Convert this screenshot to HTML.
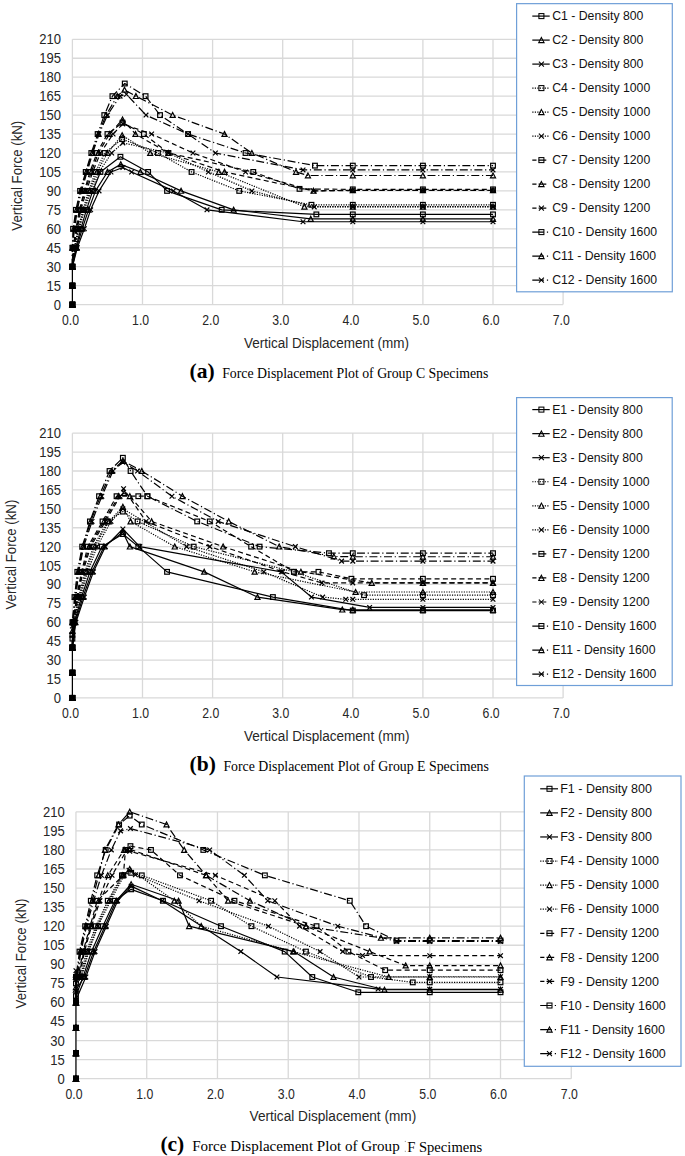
<!DOCTYPE html><html><head><meta charset="utf-8"><style>
html,body{margin:0;padding:0;background:#fff;width:685px;height:1156px;overflow:hidden}
svg{display:block}
.t{font-family:"Liberation Sans",sans-serif;font-size:14.6px;fill:#262626}
.ty{font-family:"Liberation Sans",sans-serif;font-size:15.0px;fill:#262626}
.ti{font-family:"Liberation Sans",sans-serif;font-size:14px;fill:#262626}
.ti2{font-family:"Liberation Sans",sans-serif;font-size:14px;fill:#262626}
.lg{font-family:"Liberation Sans",sans-serif;font-size:12.25px;fill:#111}
.cl{font-family:"Liberation Serif",serif;font-size:21.5px;font-weight:bold;fill:#000}
.ct{font-family:"Liberation Serif",serif;font-size:13.8px;fill:#000}
</style></head><body><svg width="685" height="1156" viewBox="0 0 685 1156">
<rect width="685" height="1156" fill="#fff"/>
<path d="M72.40,304.60H563.10M72.40,285.65H563.10M72.40,266.70H563.10M72.40,247.75H563.10M72.40,228.80H563.10M72.40,209.85H563.10M72.40,190.90H563.10M72.40,171.95H563.10M72.40,153.00H563.10M72.40,134.05H563.10M72.40,115.10H563.10M72.40,96.15H563.10M72.40,77.20H563.10M72.40,58.25H563.10M72.40,39.30H563.10M72.40,39.30V304.60M142.50,39.30V304.60M212.60,39.30V304.60M282.70,39.30V304.60M352.80,39.30V304.60M422.90,39.30V304.60M493.00,39.30V304.60M563.10,39.30V304.60" stroke="#d9d9d9" stroke-width="1.3" fill="none"/>
<text transform="translate(61.00,309.55) scale(0.87,1)" text-anchor="end" class="ty">0</text>
<text transform="translate(61.00,290.60) scale(0.87,1)" text-anchor="end" class="ty">15</text>
<text transform="translate(61.00,271.65) scale(0.87,1)" text-anchor="end" class="ty">30</text>
<text transform="translate(61.00,252.70) scale(0.87,1)" text-anchor="end" class="ty">45</text>
<text transform="translate(61.00,233.75) scale(0.87,1)" text-anchor="end" class="ty">60</text>
<text transform="translate(61.00,214.80) scale(0.87,1)" text-anchor="end" class="ty">75</text>
<text transform="translate(61.00,195.85) scale(0.87,1)" text-anchor="end" class="ty">90</text>
<text transform="translate(61.00,176.90) scale(0.87,1)" text-anchor="end" class="ty">105</text>
<text transform="translate(61.00,157.95) scale(0.87,1)" text-anchor="end" class="ty">120</text>
<text transform="translate(61.00,139.00) scale(0.87,1)" text-anchor="end" class="ty">135</text>
<text transform="translate(61.00,120.05) scale(0.87,1)" text-anchor="end" class="ty">150</text>
<text transform="translate(61.00,101.10) scale(0.87,1)" text-anchor="end" class="ty">165</text>
<text transform="translate(61.00,82.15) scale(0.87,1)" text-anchor="end" class="ty">180</text>
<text transform="translate(61.00,63.20) scale(0.87,1)" text-anchor="end" class="ty">195</text>
<text transform="translate(61.00,44.25) scale(0.87,1)" text-anchor="end" class="ty">210</text>
<text transform="translate(70.50,325.00) scale(0.84,1)" text-anchor="middle" class="t">0.0</text>
<text transform="translate(140.60,325.00) scale(0.84,1)" text-anchor="middle" class="t">1.0</text>
<text transform="translate(210.70,325.00) scale(0.84,1)" text-anchor="middle" class="t">2.0</text>
<text transform="translate(280.80,325.00) scale(0.84,1)" text-anchor="middle" class="t">3.0</text>
<text transform="translate(350.90,325.00) scale(0.84,1)" text-anchor="middle" class="t">4.0</text>
<text transform="translate(421.00,325.00) scale(0.84,1)" text-anchor="middle" class="t">5.0</text>
<text transform="translate(491.10,325.00) scale(0.84,1)" text-anchor="middle" class="t">6.0</text>
<text transform="translate(561.20,325.00) scale(0.84,1)" text-anchor="middle" class="t">7.0</text>
<text x="244.0" y="347.8" class="ti" textLength="165.0" lengthAdjust="spacingAndGlyphs">Vertical Displacement (mm)</text>
<text transform="translate(21.9,175.7) rotate(-90)" text-anchor="middle" class="ti2" textLength="110" lengthAdjust="spacingAndGlyphs">Vertical Force (kN)</text>
<path d="M72.40,304.60V266.70" stroke="#000" stroke-width="1.2"/>
<path d="M72.40,266.70L75.91,247.75L80.81,228.80L86.42,209.85L92.73,190.90L100.44,171.95L120.42,156.79L148.11,171.95L167.04,190.90L221.71,209.85L316.35,214.40L352.80,214.40L422.90,214.40L493.00,214.40" fill="none" stroke="#000" stroke-width="1.2" stroke-linejoin="round"/>
<path d="M72.40,266.70L76.61,247.75L82.21,228.80L88.52,209.85L95.53,190.90L107.45,171.95L120.77,164.37L140.40,171.95L181.06,190.90L233.63,209.85L310.74,218.95L352.80,218.95L422.90,218.95L493.00,218.95" fill="none" stroke="#000" stroke-width="1.2" stroke-linejoin="round"/>
<path d="M72.40,266.70L77.31,247.75L84.32,228.80L90.63,209.85L99.04,190.90L110.96,171.95L122.87,167.53L131.63,171.95L173.34,190.90L206.99,209.85L303.03,221.73L352.80,221.73L422.90,221.73L493.00,221.73" fill="none" stroke="#000" stroke-width="1.2" stroke-linejoin="round"/>
<path d="M72.40,266.70L74.50,247.75L78.01,228.80L82.92,209.85L88.52,190.90L95.53,171.95L104.65,153.00L122.17,139.10L157.92,153.00L191.57,171.95L239.24,190.90L311.44,204.80L352.80,204.80L422.90,204.80L493.00,204.80" fill="none" stroke="#000" stroke-width="1.2" stroke-dasharray="1.2,1.3" stroke-linejoin="round"/>
<path d="M72.40,266.70L74.50,247.75L78.71,228.80L83.62,209.85L89.93,190.90L96.94,171.95L107.45,153.00L122.17,135.31L150.21,153.00L218.91,171.95L304.43,206.69L352.80,206.69L422.90,206.69L493.00,206.69" fill="none" stroke="#000" stroke-width="1.2" stroke-dasharray="1.2,1.3" stroke-linejoin="round"/>
<path d="M72.40,266.70L75.20,247.75L79.41,228.80L84.32,209.85L91.33,190.90L99.04,171.95L111.66,153.00L122.87,142.89L168.44,153.00L208.39,171.95L251.86,190.90L314.25,206.94L352.80,206.94L422.90,206.94L493.00,206.94" fill="none" stroke="#000" stroke-width="1.2" stroke-dasharray="1.2,1.3" stroke-linejoin="round"/>
<path d="M72.40,266.70L73.10,247.75L75.91,228.80L79.41,209.85L84.32,190.90L89.93,171.95L96.94,153.00L107.45,134.05L122.52,122.68L143.90,134.05L168.44,153.00L253.26,171.95L299.52,188.88L352.80,189.38L422.90,189.38L493.00,189.38" fill="none" stroke="#000" stroke-width="1.2" stroke-dasharray="5,3.3" stroke-linejoin="round"/>
<path d="M72.40,266.70L73.80,247.75L76.61,228.80L80.11,209.85L85.02,190.90L91.33,171.95L98.34,153.00L109.55,134.05L122.52,119.52L135.49,134.05L168.44,153.00L224.52,171.95L313.54,190.90L352.80,190.27L422.90,190.27L493.00,190.27" fill="none" stroke="#000" stroke-width="1.2" stroke-dasharray="5,3.3" stroke-linejoin="round"/>
<path d="M72.40,266.70L73.80,247.75L77.31,228.80L80.81,209.85L86.42,190.90L92.73,171.95L100.44,153.00L113.06,134.05L122.87,123.94L151.61,134.05L192.97,153.00L245.55,171.95L313.54,190.90L352.80,190.52L422.90,190.52L493.00,190.52" fill="none" stroke="#000" stroke-width="1.2" stroke-dasharray="5,3.3" stroke-linejoin="round"/>
<path d="M72.40,266.70L72.40,247.75L73.10,228.80L75.91,209.85L80.11,190.90L85.72,171.95L91.33,153.00L97.64,134.05L104.30,115.10L112.43,96.15L124.76,83.52L145.58,96.15L160.03,115.10L188.06,134.05L245.55,153.00L314.95,165.63L352.80,165.63L422.90,165.63L493.00,165.63" fill="none" stroke="#000" stroke-width="1.2" stroke-dasharray="8,2.7,1.2,2.7" stroke-linejoin="round"/>
<path d="M72.40,266.70L72.40,247.75L73.80,228.80L76.61,209.85L80.81,190.90L86.42,171.95L92.03,153.00L98.34,134.05L106.05,115.10L117.26,96.15L124.48,89.83L135.91,96.15L172.64,115.10L224.52,134.05L251.86,153.00L296.02,171.95L307.94,175.49L352.80,175.49L422.90,175.49L493.00,175.49" fill="none" stroke="#000" stroke-width="1.2" stroke-dasharray="8,2.7,1.2,2.7" stroke-linejoin="round"/>
<path d="M72.40,266.70L72.40,247.75L74.50,228.80L77.31,209.85L81.51,190.90L87.12,171.95L92.73,153.00L99.04,134.05L107.45,115.10L120.07,96.15L126.38,94.26L146.00,115.10L188.06,134.05L215.40,153.00L303.03,169.93L352.80,169.93L422.90,169.93L493.00,169.93" fill="none" stroke="#000" stroke-width="1.2" stroke-dasharray="8,2.7,1.2,2.7" stroke-linejoin="round"/>
<g fill="none" stroke="#000" stroke-width="1.2"><rect x="70.05" y="302.25" width="4.70" height="4.70"/><rect x="70.05" y="283.30" width="4.70" height="4.70"/><rect x="70.05" y="264.35" width="4.70" height="4.70"/><rect x="73.56" y="245.40" width="4.70" height="4.70"/><rect x="78.46" y="226.45" width="4.70" height="4.70"/><rect x="84.07" y="207.50" width="4.70" height="4.70"/><rect x="90.38" y="188.55" width="4.70" height="4.70"/><rect x="98.09" y="169.60" width="4.70" height="4.70"/><rect x="118.07" y="154.44" width="4.70" height="4.70"/><rect x="145.76" y="169.60" width="4.70" height="4.70"/><rect x="164.69" y="188.55" width="4.70" height="4.70"/><rect x="219.36" y="207.50" width="4.70" height="4.70"/><rect x="314.00" y="212.05" width="4.70" height="4.70"/><rect x="350.45" y="212.05" width="4.70" height="4.70"/><rect x="420.55" y="212.05" width="4.70" height="4.70"/><rect x="490.65" y="212.05" width="4.70" height="4.70"/></g>
<g fill="none" stroke="#000" stroke-width="1.2"><path d="M72.40,302.05L74.95,306.95L69.85,306.95Z"/><path d="M72.40,283.10L74.95,288.00L69.85,288.00Z"/><path d="M72.40,264.15L74.95,269.05L69.85,269.05Z"/><path d="M76.61,245.20L79.16,250.10L74.06,250.10Z"/><path d="M82.21,226.25L84.76,231.15L79.66,231.15Z"/><path d="M88.52,207.30L91.07,212.20L85.97,212.20Z"/><path d="M95.53,188.35L98.08,193.25L92.98,193.25Z"/><path d="M107.45,169.40L110.00,174.30L104.90,174.30Z"/><path d="M120.77,161.82L123.32,166.72L118.22,166.72Z"/><path d="M140.40,169.40L142.95,174.30L137.85,174.30Z"/><path d="M181.06,188.35L183.60,193.25L178.51,193.25Z"/><path d="M233.63,207.30L236.18,212.20L231.08,212.20Z"/><path d="M310.74,216.40L313.29,221.30L308.19,221.30Z"/><path d="M352.80,216.40L355.35,221.30L350.25,221.30Z"/><path d="M422.90,216.40L425.45,221.30L420.35,221.30Z"/><path d="M493.00,216.40L495.55,221.30L490.45,221.30Z"/></g>
<g fill="none" stroke="#000" stroke-width="1.2"><path d="M70.05,302.25L74.75,306.95M74.75,302.25L70.05,306.95"/><path d="M70.05,283.30L74.75,288.00M74.75,283.30L70.05,288.00"/><path d="M70.05,264.35L74.75,269.05M74.75,264.35L70.05,269.05"/><path d="M74.96,245.40L79.66,250.10M79.66,245.40L74.96,250.10"/><path d="M81.97,226.45L86.67,231.15M86.67,226.45L81.97,231.15"/><path d="M88.28,207.50L92.98,212.20M92.98,207.50L88.28,212.20"/><path d="M96.69,188.55L101.39,193.25M101.39,188.55L96.69,193.25"/><path d="M108.61,169.60L113.31,174.30M113.31,169.60L108.61,174.30"/><path d="M120.52,165.18L125.22,169.88M125.22,165.18L120.52,169.88"/><path d="M129.28,169.60L133.98,174.30M133.98,169.60L129.28,174.30"/><path d="M170.99,188.55L175.69,193.25M175.69,188.55L170.99,193.25"/><path d="M204.64,207.50L209.34,212.20M209.34,207.50L204.64,212.20"/><path d="M300.68,219.38L305.38,224.08M305.38,219.38L300.68,224.08"/><path d="M350.45,219.38L355.15,224.08M355.15,219.38L350.45,224.08"/><path d="M420.55,219.38L425.25,224.08M425.25,219.38L420.55,224.08"/><path d="M490.65,219.38L495.35,224.08M495.35,219.38L490.65,224.08"/></g>
<g fill="none" stroke="#000" stroke-width="1.2"><rect x="70.05" y="302.25" width="4.70" height="4.70"/><rect x="70.05" y="283.30" width="4.70" height="4.70"/><rect x="70.05" y="264.35" width="4.70" height="4.70"/><rect x="72.15" y="245.40" width="4.70" height="4.70"/><rect x="75.66" y="226.45" width="4.70" height="4.70"/><rect x="80.57" y="207.50" width="4.70" height="4.70"/><rect x="86.17" y="188.55" width="4.70" height="4.70"/><rect x="93.18" y="169.60" width="4.70" height="4.70"/><rect x="102.30" y="150.65" width="4.70" height="4.70"/><rect x="119.82" y="136.75" width="4.70" height="4.70"/><rect x="155.57" y="150.65" width="4.70" height="4.70"/><rect x="189.22" y="169.60" width="4.70" height="4.70"/><rect x="236.89" y="188.55" width="4.70" height="4.70"/><rect x="309.09" y="202.45" width="4.70" height="4.70"/><rect x="350.45" y="202.45" width="4.70" height="4.70"/><rect x="420.55" y="202.45" width="4.70" height="4.70"/><rect x="490.65" y="202.45" width="4.70" height="4.70"/></g>
<g fill="none" stroke="#000" stroke-width="1.2"><path d="M72.40,302.05L74.95,306.95L69.85,306.95Z"/><path d="M72.40,283.10L74.95,288.00L69.85,288.00Z"/><path d="M72.40,264.15L74.95,269.05L69.85,269.05Z"/><path d="M74.50,245.20L77.05,250.10L71.95,250.10Z"/><path d="M78.71,226.25L81.26,231.15L76.16,231.15Z"/><path d="M83.62,207.30L86.17,212.20L81.07,212.20Z"/><path d="M89.93,188.35L92.48,193.25L87.38,193.25Z"/><path d="M96.94,169.40L99.48,174.30L94.39,174.30Z"/><path d="M107.45,150.45L110.00,155.35L104.90,155.35Z"/><path d="M122.17,132.76L124.72,137.66L119.62,137.66Z"/><path d="M150.21,150.45L152.76,155.35L147.66,155.35Z"/><path d="M218.91,169.40L221.46,174.30L216.36,174.30Z"/><path d="M304.43,204.14L306.98,209.04L301.88,209.04Z"/><path d="M352.80,204.14L355.35,209.04L350.25,209.04Z"/><path d="M422.90,204.14L425.45,209.04L420.35,209.04Z"/><path d="M493.00,204.14L495.55,209.04L490.45,209.04Z"/></g>
<g fill="none" stroke="#000" stroke-width="1.2"><path d="M70.05,302.25L74.75,306.95M74.75,302.25L70.05,306.95"/><path d="M70.05,283.30L74.75,288.00M74.75,283.30L70.05,288.00"/><path d="M70.05,264.35L74.75,269.05M74.75,264.35L70.05,269.05"/><path d="M72.85,245.40L77.55,250.10M77.55,245.40L72.85,250.10"/><path d="M77.06,226.45L81.76,231.15M81.76,226.45L77.06,231.15"/><path d="M81.97,207.50L86.67,212.20M86.67,207.50L81.97,212.20"/><path d="M88.98,188.55L93.68,193.25M93.68,188.55L88.98,193.25"/><path d="M96.69,169.60L101.39,174.30M101.39,169.60L96.69,174.30"/><path d="M109.31,150.65L114.01,155.35M114.01,150.65L109.31,155.35"/><path d="M120.52,140.54L125.22,145.24M125.22,140.54L120.52,145.24"/><path d="M166.09,150.65L170.79,155.35M170.79,150.65L166.09,155.35"/><path d="M206.04,169.60L210.74,174.30M210.74,169.60L206.04,174.30"/><path d="M249.51,188.55L254.21,193.25M254.21,188.55L249.51,193.25"/><path d="M311.89,204.59L316.60,209.29M316.60,204.59L311.89,209.29"/><path d="M350.45,204.59L355.15,209.29M355.15,204.59L350.45,209.29"/><path d="M420.55,204.59L425.25,209.29M425.25,204.59L420.55,209.29"/><path d="M490.65,204.59L495.35,209.29M495.35,204.59L490.65,209.29"/></g>
<g fill="none" stroke="#000" stroke-width="1.2"><rect x="70.05" y="302.25" width="4.70" height="4.70"/><rect x="70.05" y="283.30" width="4.70" height="4.70"/><rect x="70.05" y="264.35" width="4.70" height="4.70"/><rect x="70.75" y="245.40" width="4.70" height="4.70"/><rect x="73.56" y="226.45" width="4.70" height="4.70"/><rect x="77.06" y="207.50" width="4.70" height="4.70"/><rect x="81.97" y="188.55" width="4.70" height="4.70"/><rect x="87.58" y="169.60" width="4.70" height="4.70"/><rect x="94.59" y="150.65" width="4.70" height="4.70"/><rect x="105.10" y="131.70" width="4.70" height="4.70"/><rect x="120.17" y="120.33" width="4.70" height="4.70"/><rect x="141.55" y="131.70" width="4.70" height="4.70"/><rect x="166.09" y="150.65" width="4.70" height="4.70"/><rect x="250.91" y="169.60" width="4.70" height="4.70"/><rect x="297.17" y="186.53" width="4.70" height="4.70"/><rect x="350.45" y="187.03" width="4.70" height="4.70"/><rect x="420.55" y="187.03" width="4.70" height="4.70"/><rect x="490.65" y="187.03" width="4.70" height="4.70"/></g>
<g fill="none" stroke="#000" stroke-width="1.2"><path d="M72.40,302.05L74.95,306.95L69.85,306.95Z"/><path d="M72.40,283.10L74.95,288.00L69.85,288.00Z"/><path d="M72.40,264.15L74.95,269.05L69.85,269.05Z"/><path d="M73.80,245.20L76.35,250.10L71.25,250.10Z"/><path d="M76.61,226.25L79.16,231.15L74.06,231.15Z"/><path d="M80.11,207.30L82.66,212.20L77.56,212.20Z"/><path d="M85.02,188.35L87.57,193.25L82.47,193.25Z"/><path d="M91.33,169.40L93.88,174.30L88.78,174.30Z"/><path d="M98.34,150.45L100.89,155.35L95.79,155.35Z"/><path d="M109.55,131.50L112.10,136.40L107.00,136.40Z"/><path d="M122.52,116.97L125.07,121.87L119.97,121.87Z"/><path d="M135.49,131.50L138.04,136.40L132.94,136.40Z"/><path d="M168.44,150.45L170.99,155.35L165.89,155.35Z"/><path d="M224.52,169.40L227.07,174.30L221.97,174.30Z"/><path d="M313.54,188.35L316.09,193.25L310.99,193.25Z"/><path d="M352.80,187.72L355.35,192.62L350.25,192.62Z"/><path d="M422.90,187.72L425.45,192.62L420.35,192.62Z"/><path d="M493.00,187.72L495.55,192.62L490.45,192.62Z"/></g>
<g fill="none" stroke="#000" stroke-width="1.2"><path d="M70.05,302.25L74.75,306.95M74.75,302.25L70.05,306.95"/><path d="M70.05,283.30L74.75,288.00M74.75,283.30L70.05,288.00"/><path d="M70.05,264.35L74.75,269.05M74.75,264.35L70.05,269.05"/><path d="M71.45,245.40L76.15,250.10M76.15,245.40L71.45,250.10"/><path d="M74.96,226.45L79.66,231.15M79.66,226.45L74.96,231.15"/><path d="M78.46,207.50L83.16,212.20M83.16,207.50L78.46,212.20"/><path d="M84.07,188.55L88.77,193.25M88.77,188.55L84.07,193.25"/><path d="M90.38,169.60L95.08,174.30M95.08,169.60L90.38,174.30"/><path d="M98.09,150.65L102.79,155.35M102.79,150.65L98.09,155.35"/><path d="M110.71,131.70L115.41,136.40M115.41,131.70L110.71,136.40"/><path d="M120.52,121.59L125.22,126.29M125.22,121.59L120.52,126.29"/><path d="M149.26,131.70L153.96,136.40M153.96,131.70L149.26,136.40"/><path d="M190.62,150.65L195.32,155.35M195.32,150.65L190.62,155.35"/><path d="M243.20,169.60L247.90,174.30M247.90,169.60L243.20,174.30"/><path d="M311.19,188.55L315.89,193.25M315.89,188.55L311.19,193.25"/><path d="M350.45,188.17L355.15,192.87M355.15,188.17L350.45,192.87"/><path d="M420.55,188.17L425.25,192.87M425.25,188.17L420.55,192.87"/><path d="M490.65,188.17L495.35,192.87M495.35,188.17L490.65,192.87"/></g>
<g fill="none" stroke="#000" stroke-width="1.2"><rect x="70.05" y="302.25" width="4.70" height="4.70"/><rect x="70.05" y="283.30" width="4.70" height="4.70"/><rect x="70.05" y="264.35" width="4.70" height="4.70"/><rect x="70.05" y="245.40" width="4.70" height="4.70"/><rect x="70.75" y="226.45" width="4.70" height="4.70"/><rect x="73.56" y="207.50" width="4.70" height="4.70"/><rect x="77.76" y="188.55" width="4.70" height="4.70"/><rect x="83.37" y="169.60" width="4.70" height="4.70"/><rect x="88.98" y="150.65" width="4.70" height="4.70"/><rect x="95.29" y="131.70" width="4.70" height="4.70"/><rect x="101.95" y="112.75" width="4.70" height="4.70"/><rect x="110.08" y="93.80" width="4.70" height="4.70"/><rect x="122.41" y="81.17" width="4.70" height="4.70"/><rect x="143.23" y="93.80" width="4.70" height="4.70"/><rect x="157.68" y="112.75" width="4.70" height="4.70"/><rect x="185.72" y="131.70" width="4.70" height="4.70"/><rect x="243.20" y="150.65" width="4.70" height="4.70"/><rect x="312.60" y="163.28" width="4.70" height="4.70"/><rect x="350.45" y="163.28" width="4.70" height="4.70"/><rect x="420.55" y="163.28" width="4.70" height="4.70"/><rect x="490.65" y="163.28" width="4.70" height="4.70"/></g>
<g fill="none" stroke="#000" stroke-width="1.2"><path d="M72.40,302.05L74.95,306.95L69.85,306.95Z"/><path d="M72.40,283.10L74.95,288.00L69.85,288.00Z"/><path d="M72.40,264.15L74.95,269.05L69.85,269.05Z"/><path d="M72.40,245.20L74.95,250.10L69.85,250.10Z"/><path d="M73.80,226.25L76.35,231.15L71.25,231.15Z"/><path d="M76.61,207.30L79.16,212.20L74.06,212.20Z"/><path d="M80.81,188.35L83.36,193.25L78.26,193.25Z"/><path d="M86.42,169.40L88.97,174.30L83.87,174.30Z"/><path d="M92.03,150.45L94.58,155.35L89.48,155.35Z"/><path d="M98.34,131.50L100.89,136.40L95.79,136.40Z"/><path d="M106.05,112.55L108.60,117.45L103.50,117.45Z"/><path d="M117.26,93.60L119.81,98.50L114.71,98.50Z"/><path d="M124.48,87.28L127.03,92.18L121.93,92.18Z"/><path d="M135.91,93.60L138.46,98.50L133.36,98.50Z"/><path d="M172.64,112.55L175.19,117.45L170.09,117.45Z"/><path d="M224.52,131.50L227.07,136.40L221.97,136.40Z"/><path d="M251.86,150.45L254.41,155.35L249.31,155.35Z"/><path d="M296.02,169.40L298.57,174.30L293.47,174.30Z"/><path d="M307.94,172.94L310.49,177.84L305.39,177.84Z"/><path d="M352.80,172.94L355.35,177.84L350.25,177.84Z"/><path d="M422.90,172.94L425.45,177.84L420.35,177.84Z"/><path d="M493.00,172.94L495.55,177.84L490.45,177.84Z"/></g>
<g fill="none" stroke="#000" stroke-width="1.2"><path d="M70.05,302.25L74.75,306.95M74.75,302.25L70.05,306.95"/><path d="M70.05,283.30L74.75,288.00M74.75,283.30L70.05,288.00"/><path d="M70.05,264.35L74.75,269.05M74.75,264.35L70.05,269.05"/><path d="M70.05,245.40L74.75,250.10M74.75,245.40L70.05,250.10"/><path d="M72.15,226.45L76.85,231.15M76.85,226.45L72.15,231.15"/><path d="M74.96,207.50L79.66,212.20M79.66,207.50L74.96,212.20"/><path d="M79.16,188.55L83.86,193.25M83.86,188.55L79.16,193.25"/><path d="M84.77,169.60L89.47,174.30M89.47,169.60L84.77,174.30"/><path d="M90.38,150.65L95.08,155.35M95.08,150.65L90.38,155.35"/><path d="M96.69,131.70L101.39,136.40M101.39,131.70L96.69,136.40"/><path d="M105.10,112.75L109.80,117.45M109.80,112.75L105.10,117.45"/><path d="M117.72,93.80L122.42,98.50M122.42,93.80L117.72,98.50"/><path d="M124.03,91.91L128.73,96.61M128.73,91.91L124.03,96.61"/><path d="M143.66,112.75L148.35,117.45M148.35,112.75L143.66,117.45"/><path d="M185.72,131.70L190.41,136.40M190.41,131.70L185.72,136.40"/><path d="M213.05,150.65L217.75,155.35M217.75,150.65L213.05,155.35"/><path d="M300.68,167.58L305.38,172.28M305.38,167.58L300.68,172.28"/><path d="M350.45,167.58L355.15,172.28M355.15,167.58L350.45,172.28"/><path d="M420.55,167.58L425.25,172.28M425.25,167.58L420.55,172.28"/><path d="M490.65,167.58L495.35,172.28M495.35,167.58L490.65,172.28"/></g>
<rect x="516.60" y="3.65" width="155.70" height="288.15" fill="#fff" stroke="#6f9fd8" stroke-width="1.2"/>
<path d="M532.30,16.10H549.70" stroke="#000" stroke-width="1.2"/>
<g fill="none" stroke="#000" stroke-width="1.05"><rect x="538.90" y="13.60" width="5.00" height="5.00"/></g>
<text x="552.20" y="20.30" class="lg">C1 - Density 800</text>
<path d="M532.30,40.10H549.70" stroke="#000" stroke-width="1.2"/>
<g fill="none" stroke="#000" stroke-width="1.05"><path d="M541.40,37.40L544.10,42.60L538.70,42.60Z"/></g>
<text x="552.20" y="44.30" class="lg">C2 - Density 800</text>
<path d="M532.30,64.10H549.70" stroke="#000" stroke-width="1.2"/>
<g fill="none" stroke="#000" stroke-width="1.05"><path d="M538.90,61.60L543.90,66.60M543.90,61.60L538.90,66.60"/></g>
<text x="552.20" y="68.30" class="lg">C3 - Density 800</text>
<path d="M532.30,88.10H549.70" stroke="#000" stroke-width="1.2" stroke-dasharray="1.2,1.3"/>
<g fill="none" stroke="#000" stroke-width="1.05"><rect x="538.90" y="85.60" width="5.00" height="5.00"/></g>
<text x="552.20" y="92.30" class="lg">C4 - Density 1000</text>
<path d="M532.30,112.10H549.70" stroke="#000" stroke-width="1.2" stroke-dasharray="1.2,1.3"/>
<g fill="none" stroke="#000" stroke-width="1.05"><path d="M541.40,109.40L544.10,114.60L538.70,114.60Z"/></g>
<text x="552.20" y="116.30" class="lg">C5 - Density 1000</text>
<path d="M532.30,136.10H549.70" stroke="#000" stroke-width="1.2" stroke-dasharray="1.2,1.3"/>
<g fill="none" stroke="#000" stroke-width="1.05"><path d="M538.90,133.60L543.90,138.60M543.90,133.60L538.90,138.60"/></g>
<text x="552.20" y="140.30" class="lg">C6 - Density 1000</text>
<path d="M532.30,160.10H536.50M538.60,160.10H546.30" stroke="#000" stroke-width="1.2"/>
<g fill="none" stroke="#000" stroke-width="1.05"><rect x="538.90" y="157.60" width="5.00" height="5.00"/></g>
<text x="552.20" y="164.30" class="lg">C7 - Density 1200</text>
<path d="M532.30,184.10H536.50M538.60,184.10H546.30" stroke="#000" stroke-width="1.2"/>
<g fill="none" stroke="#000" stroke-width="1.05"><path d="M541.40,181.40L544.10,186.60L538.70,186.60Z"/></g>
<text x="552.20" y="188.30" class="lg">C8 - Density 1200</text>
<path d="M532.30,208.10H536.50M538.60,208.10H546.30" stroke="#000" stroke-width="1.2"/>
<g fill="none" stroke="#000" stroke-width="1.05"><path d="M538.90,205.60L543.90,210.60M543.90,205.60L538.90,210.60"/></g>
<text x="552.20" y="212.30" class="lg">C9 - Density 1200</text>
<path d="M532.30,232.10H543.90M546.90,232.10H548.10" stroke="#000" stroke-width="1.2"/>
<g fill="none" stroke="#000" stroke-width="1.05"><rect x="538.90" y="229.60" width="5.00" height="5.00"/></g>
<text x="552.20" y="236.30" class="lg">C10 - Density 1600</text>
<path d="M532.30,256.10H543.90M546.90,256.10H548.10" stroke="#000" stroke-width="1.2"/>
<g fill="none" stroke="#000" stroke-width="1.05"><path d="M541.40,253.40L544.10,258.60L538.70,258.60Z"/></g>
<text x="552.20" y="260.30" class="lg">C11 - Density 1600</text>
<path d="M532.30,280.10H543.90M546.90,280.10H548.10" stroke="#000" stroke-width="1.2"/>
<g fill="none" stroke="#000" stroke-width="1.05"><path d="M538.90,277.60L543.90,282.60M543.90,277.60L538.90,282.60"/></g>
<text x="552.20" y="284.30" class="lg">C12 - Density 1600</text>
<text x="189.60" y="377.80" class="cl">(a)</text>
<text x="222.20" y="377.80" class="ct" textLength="266.2" lengthAdjust="spacingAndGlyphs">Force Displacement Plot of Group C Specimens</text>
<path d="M72.40,697.90H563.10M72.40,678.99H563.10M72.40,660.09H563.10M72.40,641.18H563.10M72.40,622.27H563.10M72.40,603.36H563.10M72.40,584.46H563.10M72.40,565.55H563.10M72.40,546.64H563.10M72.40,527.74H563.10M72.40,508.83H563.10M72.40,489.92H563.10M72.40,471.01H563.10M72.40,452.11H563.10M72.40,433.20H563.10M72.40,433.20V697.90M142.50,433.20V697.90M212.60,433.20V697.90M282.70,433.20V697.90M352.80,433.20V697.90M422.90,433.20V697.90M493.00,433.20V697.90M563.10,433.20V697.90" stroke="#d9d9d9" stroke-width="1.3" fill="none"/>
<text transform="translate(61.00,702.85) scale(0.87,1)" text-anchor="end" class="ty">0</text>
<text transform="translate(61.00,683.94) scale(0.87,1)" text-anchor="end" class="ty">15</text>
<text transform="translate(61.00,665.04) scale(0.87,1)" text-anchor="end" class="ty">30</text>
<text transform="translate(61.00,646.13) scale(0.87,1)" text-anchor="end" class="ty">45</text>
<text transform="translate(61.00,627.22) scale(0.87,1)" text-anchor="end" class="ty">60</text>
<text transform="translate(61.00,608.31) scale(0.87,1)" text-anchor="end" class="ty">75</text>
<text transform="translate(61.00,589.41) scale(0.87,1)" text-anchor="end" class="ty">90</text>
<text transform="translate(61.00,570.50) scale(0.87,1)" text-anchor="end" class="ty">105</text>
<text transform="translate(61.00,551.59) scale(0.87,1)" text-anchor="end" class="ty">120</text>
<text transform="translate(61.00,532.69) scale(0.87,1)" text-anchor="end" class="ty">135</text>
<text transform="translate(61.00,513.78) scale(0.87,1)" text-anchor="end" class="ty">150</text>
<text transform="translate(61.00,494.87) scale(0.87,1)" text-anchor="end" class="ty">165</text>
<text transform="translate(61.00,475.96) scale(0.87,1)" text-anchor="end" class="ty">180</text>
<text transform="translate(61.00,457.06) scale(0.87,1)" text-anchor="end" class="ty">195</text>
<text transform="translate(61.00,438.15) scale(0.87,1)" text-anchor="end" class="ty">210</text>
<text transform="translate(70.50,718.30) scale(0.84,1)" text-anchor="middle" class="t">0.0</text>
<text transform="translate(140.60,718.30) scale(0.84,1)" text-anchor="middle" class="t">1.0</text>
<text transform="translate(210.70,718.30) scale(0.84,1)" text-anchor="middle" class="t">2.0</text>
<text transform="translate(280.80,718.30) scale(0.84,1)" text-anchor="middle" class="t">3.0</text>
<text transform="translate(350.90,718.30) scale(0.84,1)" text-anchor="middle" class="t">4.0</text>
<text transform="translate(421.00,718.30) scale(0.84,1)" text-anchor="middle" class="t">5.0</text>
<text transform="translate(491.10,718.30) scale(0.84,1)" text-anchor="middle" class="t">6.0</text>
<text transform="translate(561.20,718.30) scale(0.84,1)" text-anchor="middle" class="t">7.0</text>
<text x="244.0" y="740.8" class="ti" textLength="165.5" lengthAdjust="spacingAndGlyphs">Vertical Displacement (mm)</text>
<text transform="translate(16.3,554.6) rotate(-90)" text-anchor="middle" class="ti2" textLength="110" lengthAdjust="spacingAndGlyphs">Vertical Force (kN)</text>
<path d="M72.40,697.90V647.48" stroke="#000" stroke-width="1.2"/>
<path d="M72.40,647.48L74.50,622.27L81.51,597.06L89.93,571.85L101.84,546.64L122.87,534.04L138.29,546.64L167.04,571.85L272.89,597.06L352.80,610.55L422.90,610.55L493.00,610.55" fill="none" stroke="#000" stroke-width="1.2" stroke-linejoin="round"/>
<path d="M72.40,647.48L75.20,622.27L82.92,597.06L92.03,571.85L103.95,546.64L122.87,532.15L129.88,546.64L204.19,571.85L257.46,597.06L342.28,609.67L352.80,609.92L422.90,609.92L493.00,609.92" fill="none" stroke="#000" stroke-width="1.2" stroke-linejoin="round"/>
<path d="M72.40,647.48L75.91,622.27L84.32,597.06L93.43,571.85L105.35,546.64L122.87,529.00L139.70,546.64L281.30,571.85L311.44,597.06L369.62,607.40L422.90,607.40L493.00,607.40" fill="none" stroke="#000" stroke-width="1.2" stroke-linejoin="round"/>
<path d="M72.40,647.48L73.80,622.27L78.71,597.06L85.02,571.85L93.43,546.64L107.45,521.43L122.87,511.60L137.59,521.43L193.67,546.64L293.92,571.85L364.02,595.17L422.90,595.17L493.00,595.17" fill="none" stroke="#000" stroke-width="1.2" stroke-dasharray="1.2,1.3" stroke-linejoin="round"/>
<path d="M72.40,647.48L73.80,622.27L79.41,597.06L86.42,571.85L94.83,546.64L108.85,521.43L122.87,506.94L130.58,521.43L174.75,546.64L254.66,571.85L355.60,592.02L422.90,592.02L493.00,592.02" fill="none" stroke="#000" stroke-width="1.2" stroke-dasharray="1.2,1.3" stroke-linejoin="round"/>
<path d="M72.40,647.48L74.50,622.27L80.11,597.06L87.82,571.85L96.94,546.64L110.96,521.43L122.87,508.83L186.66,546.64L263.77,571.85L322.66,597.06L345.79,599.33L352.80,599.33L422.90,599.33L493.00,599.33" fill="none" stroke="#000" stroke-width="1.2" stroke-dasharray="1.2,1.3" stroke-linejoin="round"/>
<path d="M72.40,647.48L72.40,634.88L73.10,622.27L76.61,597.06L81.51,571.85L87.82,546.64L102.54,521.43L116.56,496.22L138.29,496.22L147.41,496.22L209.80,521.43L251.15,546.64L293.92,571.85L318.45,571.85L351.40,578.78L422.90,578.78L493.00,578.78" fill="none" stroke="#000" stroke-width="1.2" stroke-dasharray="5,3.3" stroke-linejoin="round"/>
<path d="M72.40,647.48L73.10,622.27L77.31,597.06L82.21,571.85L89.22,546.64L103.95,521.43L118.67,496.22L124.27,493.07L129.88,496.22L151.61,521.43L223.11,546.64L300.93,571.85L371.73,582.94L422.90,582.94L493.00,582.94" fill="none" stroke="#000" stroke-width="1.2" stroke-dasharray="5,3.3" stroke-linejoin="round"/>
<path d="M72.40,647.48L73.80,622.27L78.01,597.06L82.92,571.85L90.63,546.64L105.35,521.43L120.07,496.22L123.57,488.66L146.00,521.43L209.80,546.64L282.70,571.85L321.96,582.94L352.80,582.94L422.90,582.94L493.00,582.94" fill="none" stroke="#000" stroke-width="1.2" stroke-dasharray="5,3.3" stroke-linejoin="round"/>
<path d="M72.40,647.48L72.40,638.66L72.40,622.27L74.50,597.06L77.31,571.85L82.21,546.64L89.93,521.43L99.04,496.22L109.55,471.01L122.87,457.78L130.58,471.01L147.41,496.22L197.18,521.43L259.57,546.64L328.97,553.20L352.80,553.20L422.90,553.20L493.00,553.20" fill="none" stroke="#000" stroke-width="1.2" stroke-dasharray="8,2.7,1.2,2.7" stroke-linejoin="round"/>
<path d="M72.40,647.48L72.40,631.09L72.40,622.27L75.20,597.06L78.01,571.85L82.92,546.64L90.63,521.43L100.44,496.22L111.66,471.01L122.87,460.93L141.80,471.01L182.46,496.22L228.72,521.43L279.19,546.64L333.87,556.47L352.80,556.73L422.90,556.73L493.00,556.73" fill="none" stroke="#000" stroke-width="1.2" stroke-dasharray="8,2.7,1.2,2.7" stroke-linejoin="round"/>
<path d="M72.40,647.48L72.40,626.05L73.10,622.27L75.91,597.06L78.71,571.85L83.62,546.64L92.03,521.43L101.84,496.22L113.06,471.01L122.87,462.19L137.59,471.01L171.94,496.22L218.21,521.43L295.32,546.64L341.58,561.14L352.80,561.14L422.90,561.14L493.00,561.14" fill="none" stroke="#000" stroke-width="1.2" stroke-dasharray="8,2.7,1.2,2.7" stroke-linejoin="round"/>
<g fill="none" stroke="#000" stroke-width="1.2"><rect x="70.05" y="695.55" width="4.70" height="4.70"/><rect x="70.05" y="670.34" width="4.70" height="4.70"/><rect x="70.05" y="645.13" width="4.70" height="4.70"/><rect x="72.15" y="619.92" width="4.70" height="4.70"/><rect x="79.16" y="594.71" width="4.70" height="4.70"/><rect x="87.58" y="569.50" width="4.70" height="4.70"/><rect x="99.49" y="544.29" width="4.70" height="4.70"/><rect x="120.52" y="531.69" width="4.70" height="4.70"/><rect x="135.94" y="544.29" width="4.70" height="4.70"/><rect x="164.69" y="569.50" width="4.70" height="4.70"/><rect x="270.54" y="594.71" width="4.70" height="4.70"/><rect x="350.45" y="608.20" width="4.70" height="4.70"/><rect x="420.55" y="608.20" width="4.70" height="4.70"/><rect x="490.65" y="608.20" width="4.70" height="4.70"/></g>
<g fill="none" stroke="#000" stroke-width="1.2"><path d="M72.40,695.35L74.95,700.25L69.85,700.25Z"/><path d="M72.40,670.14L74.95,675.04L69.85,675.04Z"/><path d="M72.40,644.93L74.95,649.83L69.85,649.83Z"/><path d="M75.20,619.72L77.75,624.62L72.65,624.62Z"/><path d="M82.92,594.51L85.47,599.41L80.37,599.41Z"/><path d="M92.03,569.30L94.58,574.20L89.48,574.20Z"/><path d="M103.95,544.09L106.50,548.99L101.40,548.99Z"/><path d="M122.87,529.60L125.42,534.50L120.32,534.50Z"/><path d="M129.88,544.09L132.43,548.99L127.33,548.99Z"/><path d="M204.19,569.30L206.74,574.20L201.64,574.20Z"/><path d="M257.46,594.51L260.01,599.41L254.91,599.41Z"/><path d="M342.28,607.12L344.83,612.02L339.73,612.02Z"/><path d="M352.80,607.37L355.35,612.27L350.25,612.27Z"/><path d="M422.90,607.37L425.45,612.27L420.35,612.27Z"/><path d="M493.00,607.37L495.55,612.27L490.45,612.27Z"/></g>
<g fill="none" stroke="#000" stroke-width="1.2"><path d="M70.05,695.55L74.75,700.25M74.75,695.55L70.05,700.25"/><path d="M70.05,670.34L74.75,675.04M74.75,670.34L70.05,675.04"/><path d="M70.05,645.13L74.75,649.83M74.75,645.13L70.05,649.83"/><path d="M73.56,619.92L78.25,624.62M78.25,619.92L73.56,624.62"/><path d="M81.97,594.71L86.67,599.41M86.67,594.71L81.97,599.41"/><path d="M91.08,569.50L95.78,574.20M95.78,569.50L91.08,574.20"/><path d="M103.00,544.29L107.70,548.99M107.70,544.29L103.00,548.99"/><path d="M120.52,526.65L125.22,531.35M125.22,526.65L120.52,531.35"/><path d="M137.35,544.29L142.05,548.99M142.05,544.29L137.35,548.99"/><path d="M278.95,569.50L283.65,574.20M283.65,569.50L278.95,574.20"/><path d="M309.09,594.71L313.79,599.41M313.79,594.71L309.09,599.41"/><path d="M367.27,605.05L371.97,609.75M371.97,605.05L367.27,609.75"/><path d="M420.55,605.05L425.25,609.75M425.25,605.05L420.55,609.75"/><path d="M490.65,605.05L495.35,609.75M495.35,605.05L490.65,609.75"/></g>
<g fill="none" stroke="#000" stroke-width="1.2"><rect x="70.05" y="695.55" width="4.70" height="4.70"/><rect x="70.05" y="670.34" width="4.70" height="4.70"/><rect x="70.05" y="645.13" width="4.70" height="4.70"/><rect x="71.45" y="619.92" width="4.70" height="4.70"/><rect x="76.36" y="594.71" width="4.70" height="4.70"/><rect x="82.67" y="569.50" width="4.70" height="4.70"/><rect x="91.08" y="544.29" width="4.70" height="4.70"/><rect x="105.10" y="519.08" width="4.70" height="4.70"/><rect x="120.52" y="509.25" width="4.70" height="4.70"/><rect x="135.24" y="519.08" width="4.70" height="4.70"/><rect x="191.32" y="544.29" width="4.70" height="4.70"/><rect x="291.57" y="569.50" width="4.70" height="4.70"/><rect x="361.67" y="592.82" width="4.70" height="4.70"/><rect x="420.55" y="592.82" width="4.70" height="4.70"/><rect x="490.65" y="592.82" width="4.70" height="4.70"/></g>
<g fill="none" stroke="#000" stroke-width="1.2"><path d="M72.40,695.35L74.95,700.25L69.85,700.25Z"/><path d="M72.40,670.14L74.95,675.04L69.85,675.04Z"/><path d="M72.40,644.93L74.95,649.83L69.85,649.83Z"/><path d="M73.80,619.72L76.35,624.62L71.25,624.62Z"/><path d="M79.41,594.51L81.96,599.41L76.86,599.41Z"/><path d="M86.42,569.30L88.97,574.20L83.87,574.20Z"/><path d="M94.83,544.09L97.38,548.99L92.28,548.99Z"/><path d="M108.85,518.88L111.40,523.78L106.30,523.78Z"/><path d="M122.87,504.39L125.42,509.29L120.32,509.29Z"/><path d="M130.58,518.88L133.13,523.78L128.03,523.78Z"/><path d="M174.75,544.09L177.30,548.99L172.20,548.99Z"/><path d="M254.66,569.30L257.21,574.20L252.11,574.20Z"/><path d="M355.60,589.47L358.15,594.37L353.05,594.37Z"/><path d="M422.90,589.47L425.45,594.37L420.35,594.37Z"/><path d="M493.00,589.47L495.55,594.37L490.45,594.37Z"/></g>
<g fill="none" stroke="#000" stroke-width="1.2"><path d="M70.05,695.55L74.75,700.25M74.75,695.55L70.05,700.25"/><path d="M70.05,670.34L74.75,675.04M74.75,670.34L70.05,675.04"/><path d="M70.05,645.13L74.75,649.83M74.75,645.13L70.05,649.83"/><path d="M72.15,619.92L76.85,624.62M76.85,619.92L72.15,624.62"/><path d="M77.76,594.71L82.46,599.41M82.46,594.71L77.76,599.41"/><path d="M85.47,569.50L90.17,574.20M90.17,569.50L85.47,574.20"/><path d="M94.59,544.29L99.28,548.99M99.28,544.29L94.59,548.99"/><path d="M108.61,519.08L113.31,523.78M113.31,519.08L108.61,523.78"/><path d="M120.52,506.48L125.22,511.18M125.22,506.48L120.52,511.18"/><path d="M184.31,544.29L189.01,548.99M189.01,544.29L184.31,548.99"/><path d="M261.42,569.50L266.12,574.20M266.12,569.50L261.42,574.20"/><path d="M320.31,594.71L325.01,599.41M325.01,594.71L320.31,599.41"/><path d="M343.44,596.98L348.14,601.68M348.14,596.98L343.44,601.68"/><path d="M350.45,596.98L355.15,601.68M355.15,596.98L350.45,601.68"/><path d="M420.55,596.98L425.25,601.68M425.25,596.98L420.55,601.68"/><path d="M490.65,596.98L495.35,601.68M495.35,596.98L490.65,601.68"/></g>
<g fill="none" stroke="#000" stroke-width="1.2"><rect x="70.05" y="695.55" width="4.70" height="4.70"/><rect x="70.05" y="670.34" width="4.70" height="4.70"/><rect x="70.05" y="645.13" width="4.70" height="4.70"/><rect x="70.05" y="632.53" width="4.70" height="4.70"/><rect x="70.75" y="619.92" width="4.70" height="4.70"/><rect x="74.26" y="594.71" width="4.70" height="4.70"/><rect x="79.16" y="569.50" width="4.70" height="4.70"/><rect x="85.47" y="544.29" width="4.70" height="4.70"/><rect x="100.19" y="519.08" width="4.70" height="4.70"/><rect x="114.21" y="493.87" width="4.70" height="4.70"/><rect x="135.94" y="493.87" width="4.70" height="4.70"/><rect x="145.06" y="493.87" width="4.70" height="4.70"/><rect x="207.45" y="519.08" width="4.70" height="4.70"/><rect x="248.80" y="544.29" width="4.70" height="4.70"/><rect x="291.57" y="569.50" width="4.70" height="4.70"/><rect x="316.10" y="569.50" width="4.70" height="4.70"/><rect x="349.05" y="576.43" width="4.70" height="4.70"/><rect x="420.55" y="576.43" width="4.70" height="4.70"/><rect x="490.65" y="576.43" width="4.70" height="4.70"/></g>
<g fill="none" stroke="#000" stroke-width="1.2"><path d="M72.40,695.35L74.95,700.25L69.85,700.25Z"/><path d="M72.40,670.14L74.95,675.04L69.85,675.04Z"/><path d="M72.40,644.93L74.95,649.83L69.85,649.83Z"/><path d="M73.10,619.72L75.65,624.62L70.55,624.62Z"/><path d="M77.31,594.51L79.86,599.41L74.76,599.41Z"/><path d="M82.21,569.30L84.76,574.20L79.66,574.20Z"/><path d="M89.22,544.09L91.77,548.99L86.67,548.99Z"/><path d="M103.95,518.88L106.50,523.78L101.40,523.78Z"/><path d="M118.67,493.67L121.22,498.57L116.12,498.57Z"/><path d="M124.27,490.52L126.82,495.42L121.72,495.42Z"/><path d="M129.88,493.67L132.43,498.57L127.33,498.57Z"/><path d="M151.61,518.88L154.16,523.78L149.06,523.78Z"/><path d="M223.11,544.09L225.66,548.99L220.56,548.99Z"/><path d="M300.93,569.30L303.48,574.20L298.38,574.20Z"/><path d="M371.73,580.39L374.28,585.29L369.18,585.29Z"/><path d="M422.90,580.39L425.45,585.29L420.35,585.29Z"/><path d="M493.00,580.39L495.55,585.29L490.45,585.29Z"/></g>
<g fill="none" stroke="#000" stroke-width="1.2"><path d="M70.05,695.55L74.75,700.25M74.75,695.55L70.05,700.25"/><path d="M70.05,670.34L74.75,675.04M74.75,670.34L70.05,675.04"/><path d="M70.05,645.13L74.75,649.83M74.75,645.13L70.05,649.83"/><path d="M71.45,619.92L76.15,624.62M76.15,619.92L71.45,624.62"/><path d="M75.66,594.71L80.36,599.41M80.36,594.71L75.66,599.41"/><path d="M80.57,569.50L85.27,574.20M85.27,569.50L80.57,574.20"/><path d="M88.28,544.29L92.98,548.99M92.98,544.29L88.28,548.99"/><path d="M103.00,519.08L107.70,523.78M107.70,519.08L103.00,523.78"/><path d="M117.72,493.87L122.42,498.57M122.42,493.87L117.72,498.57"/><path d="M121.22,486.31L125.92,491.01M125.92,486.31L121.22,491.01"/><path d="M143.66,519.08L148.35,523.78M148.35,519.08L143.66,523.78"/><path d="M207.45,544.29L212.15,548.99M212.15,544.29L207.45,548.99"/><path d="M280.35,569.50L285.05,574.20M285.05,569.50L280.35,574.20"/><path d="M319.61,580.59L324.31,585.29M324.31,580.59L319.61,585.29"/><path d="M350.45,580.59L355.15,585.29M355.15,580.59L350.45,585.29"/><path d="M420.55,580.59L425.25,585.29M425.25,580.59L420.55,585.29"/><path d="M490.65,580.59L495.35,585.29M495.35,580.59L490.65,585.29"/></g>
<g fill="none" stroke="#000" stroke-width="1.2"><rect x="70.05" y="695.55" width="4.70" height="4.70"/><rect x="70.05" y="670.34" width="4.70" height="4.70"/><rect x="70.05" y="645.13" width="4.70" height="4.70"/><rect x="70.05" y="636.31" width="4.70" height="4.70"/><rect x="70.05" y="619.92" width="4.70" height="4.70"/><rect x="72.15" y="594.71" width="4.70" height="4.70"/><rect x="74.96" y="569.50" width="4.70" height="4.70"/><rect x="79.86" y="544.29" width="4.70" height="4.70"/><rect x="87.58" y="519.08" width="4.70" height="4.70"/><rect x="96.69" y="493.87" width="4.70" height="4.70"/><rect x="107.20" y="468.66" width="4.70" height="4.70"/><rect x="120.52" y="455.43" width="4.70" height="4.70"/><rect x="128.23" y="468.66" width="4.70" height="4.70"/><rect x="145.06" y="493.87" width="4.70" height="4.70"/><rect x="194.83" y="519.08" width="4.70" height="4.70"/><rect x="257.22" y="544.29" width="4.70" height="4.70"/><rect x="326.62" y="550.85" width="4.70" height="4.70"/><rect x="350.45" y="550.85" width="4.70" height="4.70"/><rect x="420.55" y="550.85" width="4.70" height="4.70"/><rect x="490.65" y="550.85" width="4.70" height="4.70"/></g>
<g fill="none" stroke="#000" stroke-width="1.2"><path d="M72.40,695.35L74.95,700.25L69.85,700.25Z"/><path d="M72.40,670.14L74.95,675.04L69.85,675.04Z"/><path d="M72.40,644.93L74.95,649.83L69.85,649.83Z"/><path d="M72.40,628.54L74.95,633.44L69.85,633.44Z"/><path d="M72.40,619.72L74.95,624.62L69.85,624.62Z"/><path d="M75.20,594.51L77.75,599.41L72.65,599.41Z"/><path d="M78.01,569.30L80.56,574.20L75.46,574.20Z"/><path d="M82.92,544.09L85.47,548.99L80.37,548.99Z"/><path d="M90.63,518.88L93.18,523.78L88.08,523.78Z"/><path d="M100.44,493.67L102.99,498.57L97.89,498.57Z"/><path d="M111.66,468.46L114.21,473.36L109.11,473.36Z"/><path d="M122.87,458.38L125.42,463.28L120.32,463.28Z"/><path d="M141.80,468.46L144.35,473.36L139.25,473.36Z"/><path d="M182.46,493.67L185.01,498.57L179.91,498.57Z"/><path d="M228.72,518.88L231.27,523.78L226.17,523.78Z"/><path d="M279.19,544.09L281.75,548.99L276.64,548.99Z"/><path d="M333.87,553.92L336.42,558.82L331.32,558.82Z"/><path d="M352.80,554.18L355.35,559.08L350.25,559.08Z"/><path d="M422.90,554.18L425.45,559.08L420.35,559.08Z"/><path d="M493.00,554.18L495.55,559.08L490.45,559.08Z"/></g>
<g fill="none" stroke="#000" stroke-width="1.2"><path d="M70.05,695.55L74.75,700.25M74.75,695.55L70.05,700.25"/><path d="M70.05,670.34L74.75,675.04M74.75,670.34L70.05,675.04"/><path d="M70.05,645.13L74.75,649.83M74.75,645.13L70.05,649.83"/><path d="M70.05,623.70L74.75,628.40M74.75,623.70L70.05,628.40"/><path d="M70.75,619.92L75.45,624.62M75.45,619.92L70.75,624.62"/><path d="M73.56,594.71L78.25,599.41M78.25,594.71L73.56,599.41"/><path d="M76.36,569.50L81.06,574.20M81.06,569.50L76.36,574.20"/><path d="M81.27,544.29L85.97,548.99M85.97,544.29L81.27,548.99"/><path d="M89.68,519.08L94.38,523.78M94.38,519.08L89.68,523.78"/><path d="M99.49,493.87L104.19,498.57M104.19,493.87L99.49,498.57"/><path d="M110.71,468.66L115.41,473.36M115.41,468.66L110.71,473.36"/><path d="M120.52,459.84L125.22,464.54M125.22,459.84L120.52,464.54"/><path d="M135.24,468.66L139.94,473.36M139.94,468.66L135.24,473.36"/><path d="M169.59,493.87L174.29,498.57M174.29,493.87L169.59,498.57"/><path d="M215.86,519.08L220.56,523.78M220.56,519.08L215.86,523.78"/><path d="M292.97,544.29L297.67,548.99M297.67,544.29L292.97,548.99"/><path d="M339.23,558.79L343.93,563.49M343.93,558.79L339.23,563.49"/><path d="M350.45,558.79L355.15,563.49M355.15,558.79L350.45,563.49"/><path d="M420.55,558.79L425.25,563.49M425.25,558.79L420.55,563.49"/><path d="M490.65,558.79L495.35,563.49M495.35,558.79L490.65,563.49"/></g>
<rect x="516.60" y="397.60" width="155.60" height="287.90" fill="#fff" stroke="#6f9fd8" stroke-width="1.2"/>
<path d="M532.30,409.60H549.70" stroke="#000" stroke-width="1.2"/>
<g fill="none" stroke="#000" stroke-width="1.05"><rect x="538.90" y="407.10" width="5.00" height="5.00"/></g>
<text x="552.20" y="413.80" class="lg">E1 - Density 800</text>
<path d="M532.30,433.65H549.70" stroke="#000" stroke-width="1.2"/>
<g fill="none" stroke="#000" stroke-width="1.05"><path d="M541.40,430.95L544.10,436.15L538.70,436.15Z"/></g>
<text x="552.20" y="437.85" class="lg">E2 - Density 800</text>
<path d="M532.30,457.70H549.70" stroke="#000" stroke-width="1.2"/>
<g fill="none" stroke="#000" stroke-width="1.05"><path d="M538.90,455.20L543.90,460.20M543.90,455.20L538.90,460.20"/></g>
<text x="552.20" y="461.90" class="lg">E3 - Density 800</text>
<path d="M532.30,481.75H549.70" stroke="#000" stroke-width="1.2" stroke-dasharray="1.2,1.3"/>
<g fill="none" stroke="#000" stroke-width="1.05"><rect x="538.90" y="479.25" width="5.00" height="5.00"/></g>
<text x="552.20" y="485.95" class="lg">E4 - Density 1000</text>
<path d="M532.30,505.80H549.70" stroke="#000" stroke-width="1.2" stroke-dasharray="1.2,1.3"/>
<g fill="none" stroke="#000" stroke-width="1.05"><path d="M541.40,503.10L544.10,508.30L538.70,508.30Z"/></g>
<text x="552.20" y="510.00" class="lg">E5 - Density 1000</text>
<path d="M532.30,529.85H549.70" stroke="#000" stroke-width="1.2" stroke-dasharray="1.2,1.3"/>
<g fill="none" stroke="#000" stroke-width="1.05"><path d="M538.90,527.35L543.90,532.35M543.90,527.35L538.90,532.35"/></g>
<text x="552.20" y="534.05" class="lg">E6 - Density 1000</text>
<path d="M532.30,553.90H536.50M538.60,553.90H546.30" stroke="#000" stroke-width="1.2"/>
<g fill="none" stroke="#000" stroke-width="1.05"><rect x="538.90" y="551.40" width="5.00" height="5.00"/></g>
<text x="552.20" y="558.10" class="lg">E7 - Density 1200</text>
<path d="M532.30,577.95H536.50M538.60,577.95H546.30" stroke="#000" stroke-width="1.2"/>
<g fill="none" stroke="#000" stroke-width="1.05"><path d="M541.40,575.25L544.10,580.45L538.70,580.45Z"/></g>
<text x="552.20" y="582.15" class="lg">E8 - Density 1200</text>
<path d="M532.30,602.00H536.50M538.60,602.00H546.30" stroke="#000" stroke-width="1.2"/>
<g fill="none" stroke="#000" stroke-width="1.05"><path d="M538.90,599.50L543.90,604.50M543.90,599.50L538.90,604.50"/></g>
<text x="552.20" y="606.20" class="lg">E9 - Density 1200</text>
<path d="M532.30,626.05H543.90M546.90,626.05H548.10" stroke="#000" stroke-width="1.2"/>
<g fill="none" stroke="#000" stroke-width="1.05"><rect x="538.90" y="623.55" width="5.00" height="5.00"/></g>
<text x="552.20" y="630.25" class="lg">E10 - Density 1600</text>
<path d="M532.30,650.10H543.90M546.90,650.10H548.10" stroke="#000" stroke-width="1.2"/>
<g fill="none" stroke="#000" stroke-width="1.05"><path d="M541.40,647.40L544.10,652.60L538.70,652.60Z"/></g>
<text x="552.20" y="654.30" class="lg">E11 - Density 1600</text>
<path d="M532.30,674.15H543.90M546.90,674.15H548.10" stroke="#000" stroke-width="1.2"/>
<g fill="none" stroke="#000" stroke-width="1.05"><path d="M538.90,671.65L543.90,676.65M543.90,671.65L538.90,676.65"/></g>
<text x="552.20" y="678.35" class="lg">E12 - Density 1600</text>
<text x="189.60" y="771.10" class="cl">(b)</text>
<text x="223.40" y="771.10" class="ct" textLength="265.4" lengthAdjust="spacingAndGlyphs">Force Displacement Plot of Group E Specimens</text>
<path d="M75.95,1078.70H571.27M75.95,1059.64H571.27M75.95,1040.57H571.27M75.95,1021.51H571.27M75.95,1002.44H571.27M75.95,983.38H571.27M75.95,964.31H571.27M75.95,945.25H571.27M75.95,926.19H571.27M75.95,907.12H571.27M75.95,888.06H571.27M75.95,868.99H571.27M75.95,849.93H571.27M75.95,830.86H571.27M75.95,811.80H571.27M75.95,811.80V1078.70M146.71,811.80V1078.70M217.47,811.80V1078.70M288.23,811.80V1078.70M358.99,811.80V1078.70M429.75,811.80V1078.70M500.51,811.80V1078.70M571.27,811.80V1078.70" stroke="#d9d9d9" stroke-width="1.3" fill="none"/>
<text transform="translate(64.70,1083.65) scale(0.87,1)" text-anchor="end" class="ty">0</text>
<text transform="translate(64.70,1064.59) scale(0.87,1)" text-anchor="end" class="ty">15</text>
<text transform="translate(64.70,1045.52) scale(0.87,1)" text-anchor="end" class="ty">30</text>
<text transform="translate(64.70,1026.46) scale(0.87,1)" text-anchor="end" class="ty">45</text>
<text transform="translate(64.70,1007.39) scale(0.87,1)" text-anchor="end" class="ty">60</text>
<text transform="translate(64.70,988.33) scale(0.87,1)" text-anchor="end" class="ty">75</text>
<text transform="translate(64.70,969.26) scale(0.87,1)" text-anchor="end" class="ty">90</text>
<text transform="translate(64.70,950.20) scale(0.87,1)" text-anchor="end" class="ty">105</text>
<text transform="translate(64.70,931.14) scale(0.87,1)" text-anchor="end" class="ty">120</text>
<text transform="translate(64.70,912.07) scale(0.87,1)" text-anchor="end" class="ty">135</text>
<text transform="translate(64.70,893.01) scale(0.87,1)" text-anchor="end" class="ty">150</text>
<text transform="translate(64.70,873.94) scale(0.87,1)" text-anchor="end" class="ty">165</text>
<text transform="translate(64.70,854.88) scale(0.87,1)" text-anchor="end" class="ty">180</text>
<text transform="translate(64.70,835.81) scale(0.87,1)" text-anchor="end" class="ty">195</text>
<text transform="translate(64.70,816.75) scale(0.87,1)" text-anchor="end" class="ty">210</text>
<text transform="translate(74.05,1099.00) scale(0.84,1)" text-anchor="middle" class="t">0.0</text>
<text transform="translate(144.81,1099.00) scale(0.84,1)" text-anchor="middle" class="t">1.0</text>
<text transform="translate(215.57,1099.00) scale(0.84,1)" text-anchor="middle" class="t">2.0</text>
<text transform="translate(286.33,1099.00) scale(0.84,1)" text-anchor="middle" class="t">3.0</text>
<text transform="translate(357.09,1099.00) scale(0.84,1)" text-anchor="middle" class="t">4.0</text>
<text transform="translate(427.85,1099.00) scale(0.84,1)" text-anchor="middle" class="t">5.0</text>
<text transform="translate(498.61,1099.00) scale(0.84,1)" text-anchor="middle" class="t">6.0</text>
<text transform="translate(569.37,1099.00) scale(0.84,1)" text-anchor="middle" class="t">7.0</text>
<text x="249.6" y="1120.7" class="ti" textLength="166.6" lengthAdjust="spacingAndGlyphs">Vertical Displacement (mm)</text>
<text transform="translate(25.8,953.5) rotate(-90)" text-anchor="middle" class="ti2" textLength="110" lengthAdjust="spacingAndGlyphs">Vertical Force (kN)</text>
<path d="M75.95,1078.70V1002.44" stroke="#000" stroke-width="1.2"/>
<path d="M75.95,1002.44L75.95,996.09L83.03,977.02L91.52,951.60L102.84,926.19L114.87,900.77L131.14,889.33L162.98,900.77L221.01,926.19L284.69,951.60L312.29,977.02L358.28,992.28L429.75,992.28L500.51,992.28" fill="none" stroke="#000" stroke-width="1.2" stroke-linejoin="round"/>
<path d="M75.95,1002.44L75.95,989.73L84.44,977.02L93.64,951.60L104.96,926.19L116.28,900.77L131.14,884.24L178.55,900.77L189.17,926.19L293.89,951.60L333.52,977.02L384.46,989.73L429.75,989.73L500.51,989.73" fill="none" stroke="#000" stroke-width="1.2" stroke-linejoin="round"/>
<path d="M75.95,1002.44L75.95,999.90L85.86,977.02L95.06,951.60L106.38,926.19L117.70,900.77L131.14,886.15L162.28,900.77L240.82,951.60L276.91,977.02L378.10,989.10L429.75,989.35L500.51,989.35" fill="none" stroke="#000" stroke-width="1.2" stroke-linejoin="round"/>
<path d="M75.95,1002.44L75.95,983.38L80.20,977.02L86.56,951.60L95.76,926.19L107.79,900.77L121.94,875.35L131.14,872.81L141.76,875.35L211.10,900.77L251.43,926.19L305.92,951.60L371.02,977.02L412.77,982.36L429.75,982.36L500.51,982.36" fill="none" stroke="#000" stroke-width="1.2" stroke-dasharray="1.2,1.3" stroke-linejoin="round"/>
<path d="M75.95,1002.44L75.95,987.19L80.90,977.02L87.98,951.60L97.18,926.19L109.21,900.77L122.65,875.35L129.73,868.99L174.31,900.77L201.20,926.19L293.18,951.60L388.71,977.02L429.75,977.02L500.51,977.02" fill="none" stroke="#000" stroke-width="1.2" stroke-dasharray="1.2,1.3" stroke-linejoin="round"/>
<path d="M75.95,1002.44L75.95,979.57L81.61,977.02L88.69,951.60L97.89,926.19L110.62,900.77L124.07,875.35L129.02,870.26L135.39,874.71L199.07,900.77L268.42,926.19L320.07,951.60L358.99,977.02L429.75,976.77L500.51,976.77" fill="none" stroke="#000" stroke-width="1.2" stroke-dasharray="1.2,1.3" stroke-linejoin="round"/>
<path d="M75.95,1002.44L75.95,977.02L78.07,977.02L83.03,951.60L90.10,926.19L97.18,900.77L123.36,875.35L125.48,849.93L130.44,846.12L150.96,849.93L179.97,875.35L234.45,900.77L316.53,926.19L348.38,951.60L385.17,970.16L429.75,970.16L500.51,970.16" fill="none" stroke="#000" stroke-width="1.2" stroke-dasharray="5,3.3" stroke-linejoin="round"/>
<path d="M75.95,1002.44L75.95,974.48L78.78,977.02L83.73,951.60L90.81,926.19L98.59,900.77L107.79,875.35L124.07,849.93L129.73,849.29L206.15,875.35L228.08,900.77L305.92,926.19L369.60,951.60L405.69,965.59L429.75,965.59L500.51,965.59" fill="none" stroke="#000" stroke-width="1.2" stroke-dasharray="5,3.3" stroke-linejoin="round"/>
<path d="M75.95,1002.44L75.95,970.67L79.49,977.02L84.44,951.60L91.52,926.19L100.01,900.77L112.04,875.35L126.90,849.93L129.73,851.20L215.35,875.35L274.79,900.77L299.55,926.19L342.72,951.60L362.53,955.42L429.75,955.67L500.51,955.67" fill="none" stroke="#000" stroke-width="1.2" stroke-dasharray="5,3.3" stroke-linejoin="round"/>
<path d="M75.95,1002.44L75.95,977.02L75.95,977.02L79.49,951.60L85.15,926.19L90.81,900.77L97.18,875.35L105.67,849.93L119.11,824.51L129.73,815.61L141.76,824.51L203.32,849.93L264.88,875.35L349.79,900.77L366.07,926.19L396.49,940.55L429.75,940.55L500.51,940.55" fill="none" stroke="#000" stroke-width="1.2" stroke-dasharray="8,2.7,1.2,2.7" stroke-linejoin="round"/>
<path d="M75.95,1002.44L75.95,977.02L76.66,977.02L80.20,951.60L85.86,926.19L92.22,900.77L98.59,875.35L104.96,849.93L118.41,824.51L129.73,811.80L166.52,824.51L184.21,849.93L206.15,875.35L250.02,900.77L305.92,926.19L380.93,937.88L429.75,937.88L500.51,937.88" fill="none" stroke="#000" stroke-width="1.2" stroke-dasharray="8,2.7,1.2,2.7" stroke-linejoin="round"/>
<path d="M75.95,1002.44L75.95,977.02L77.37,977.02L80.90,951.60L86.56,926.19L93.64,900.77L101.42,875.35L111.33,849.93L120.53,830.86L130.44,828.58L209.69,849.93L244.36,875.35L267.71,900.77L337.76,926.19L396.49,941.44L429.75,941.44L500.51,941.44" fill="none" stroke="#000" stroke-width="1.2" stroke-dasharray="8,2.7,1.2,2.7" stroke-linejoin="round"/>
<g fill="none" stroke="#000" stroke-width="1.2"><rect x="73.60" y="1076.35" width="4.70" height="4.70"/><rect x="73.60" y="1050.93" width="4.70" height="4.70"/><rect x="73.60" y="1025.51" width="4.70" height="4.70"/><rect x="73.60" y="1000.09" width="4.70" height="4.70"/><rect x="73.60" y="993.74" width="4.70" height="4.70"/><rect x="80.68" y="974.67" width="4.70" height="4.70"/><rect x="89.17" y="949.25" width="4.70" height="4.70"/><rect x="100.49" y="923.84" width="4.70" height="4.70"/><rect x="112.52" y="898.42" width="4.70" height="4.70"/><rect x="128.79" y="886.98" width="4.70" height="4.70"/><rect x="160.63" y="898.42" width="4.70" height="4.70"/><rect x="218.66" y="923.84" width="4.70" height="4.70"/><rect x="282.34" y="949.25" width="4.70" height="4.70"/><rect x="309.94" y="974.67" width="4.70" height="4.70"/><rect x="355.93" y="989.93" width="4.70" height="4.70"/><rect x="427.40" y="989.93" width="4.70" height="4.70"/><rect x="498.16" y="989.93" width="4.70" height="4.70"/></g>
<g fill="none" stroke="#000" stroke-width="1.2"><path d="M75.95,1076.15L78.50,1081.05L73.40,1081.05Z"/><path d="M75.95,1050.73L78.50,1055.63L73.40,1055.63Z"/><path d="M75.95,1025.31L78.50,1030.21L73.40,1030.21Z"/><path d="M75.95,999.89L78.50,1004.79L73.40,1004.79Z"/><path d="M75.95,987.18L78.50,992.08L73.40,992.08Z"/><path d="M84.44,974.47L86.99,979.37L81.89,979.37Z"/><path d="M93.64,949.05L96.19,953.95L91.09,953.95Z"/><path d="M104.96,923.64L107.51,928.54L102.41,928.54Z"/><path d="M116.28,898.22L118.83,903.12L113.73,903.12Z"/><path d="M131.14,881.69L133.69,886.59L128.59,886.59Z"/><path d="M178.55,898.22L181.10,903.12L176.00,903.12Z"/><path d="M189.17,923.64L191.72,928.54L186.62,928.54Z"/><path d="M293.89,949.05L296.44,953.95L291.34,953.95Z"/><path d="M333.52,974.47L336.07,979.37L330.97,979.37Z"/><path d="M384.46,987.18L387.01,992.08L381.91,992.08Z"/><path d="M429.75,987.18L432.30,992.08L427.20,992.08Z"/><path d="M500.51,987.18L503.06,992.08L497.96,992.08Z"/></g>
<g fill="none" stroke="#000" stroke-width="1.2"><path d="M73.60,1076.35L78.30,1081.05M78.30,1076.35L73.60,1081.05"/><path d="M73.60,1050.93L78.30,1055.63M78.30,1050.93L73.60,1055.63"/><path d="M73.60,1025.51L78.30,1030.21M78.30,1025.51L73.60,1030.21"/><path d="M73.60,1000.09L78.30,1004.79M78.30,1000.09L73.60,1004.79"/><path d="M73.60,997.55L78.30,1002.25M78.30,997.55L73.60,1002.25"/><path d="M83.51,974.67L88.21,979.37M88.21,974.67L83.51,979.37"/><path d="M92.71,949.25L97.41,953.95M97.41,949.25L92.71,953.95"/><path d="M104.03,923.84L108.73,928.54M108.73,923.84L104.03,928.54"/><path d="M115.35,898.42L120.05,903.12M120.05,898.42L115.35,903.12"/><path d="M128.79,883.80L133.49,888.50M133.49,883.80L128.79,888.50"/><path d="M159.93,898.42L164.63,903.12M164.63,898.42L159.93,903.12"/><path d="M238.47,949.25L243.17,953.95M243.17,949.25L238.47,953.95"/><path d="M274.56,974.67L279.26,979.37M279.26,974.67L274.56,979.37"/><path d="M375.75,986.75L380.45,991.45M380.45,986.75L375.75,991.45"/><path d="M427.40,987.00L432.10,991.70M432.10,987.00L427.40,991.70"/><path d="M498.16,987.00L502.86,991.70M502.86,987.00L498.16,991.70"/></g>
<g fill="none" stroke="#000" stroke-width="1.2"><rect x="73.60" y="1076.35" width="4.70" height="4.70"/><rect x="73.60" y="1050.93" width="4.70" height="4.70"/><rect x="73.60" y="1025.51" width="4.70" height="4.70"/><rect x="73.60" y="1000.09" width="4.70" height="4.70"/><rect x="73.60" y="981.03" width="4.70" height="4.70"/><rect x="77.85" y="974.67" width="4.70" height="4.70"/><rect x="84.21" y="949.25" width="4.70" height="4.70"/><rect x="93.41" y="923.84" width="4.70" height="4.70"/><rect x="105.44" y="898.42" width="4.70" height="4.70"/><rect x="119.59" y="873.00" width="4.70" height="4.70"/><rect x="128.79" y="870.46" width="4.70" height="4.70"/><rect x="139.41" y="873.00" width="4.70" height="4.70"/><rect x="208.75" y="898.42" width="4.70" height="4.70"/><rect x="249.08" y="923.84" width="4.70" height="4.70"/><rect x="303.57" y="949.25" width="4.70" height="4.70"/><rect x="368.67" y="974.67" width="4.70" height="4.70"/><rect x="410.42" y="980.01" width="4.70" height="4.70"/><rect x="427.40" y="980.01" width="4.70" height="4.70"/><rect x="498.16" y="980.01" width="4.70" height="4.70"/></g>
<g fill="none" stroke="#000" stroke-width="1.2"><path d="M75.95,1076.15L78.50,1081.05L73.40,1081.05Z"/><path d="M75.95,1050.73L78.50,1055.63L73.40,1055.63Z"/><path d="M75.95,1025.31L78.50,1030.21L73.40,1030.21Z"/><path d="M75.95,999.89L78.50,1004.79L73.40,1004.79Z"/><path d="M75.95,984.64L78.50,989.54L73.40,989.54Z"/><path d="M80.90,974.47L83.45,979.37L78.35,979.37Z"/><path d="M87.98,949.05L90.53,953.95L85.43,953.95Z"/><path d="M97.18,923.64L99.73,928.54L94.63,928.54Z"/><path d="M109.21,898.22L111.76,903.12L106.66,903.12Z"/><path d="M122.65,872.80L125.20,877.70L120.10,877.70Z"/><path d="M129.73,866.44L132.28,871.34L127.18,871.34Z"/><path d="M174.31,898.22L176.86,903.12L171.76,903.12Z"/><path d="M201.20,923.64L203.75,928.54L198.65,928.54Z"/><path d="M293.18,949.05L295.73,953.95L290.63,953.95Z"/><path d="M388.71,974.47L391.26,979.37L386.16,979.37Z"/><path d="M429.75,974.47L432.30,979.37L427.20,979.37Z"/><path d="M500.51,974.47L503.06,979.37L497.96,979.37Z"/></g>
<g fill="none" stroke="#000" stroke-width="1.2"><path d="M73.60,1076.35L78.30,1081.05M78.30,1076.35L73.60,1081.05"/><path d="M73.60,1050.93L78.30,1055.63M78.30,1050.93L73.60,1055.63"/><path d="M73.60,1025.51L78.30,1030.21M78.30,1025.51L73.60,1030.21"/><path d="M73.60,1000.09L78.30,1004.79M78.30,1000.09L73.60,1004.79"/><path d="M73.60,977.22L78.30,981.92M78.30,977.22L73.60,981.92"/><path d="M79.26,974.67L83.96,979.37M83.96,974.67L79.26,979.37"/><path d="M86.34,949.25L91.04,953.95M91.04,949.25L86.34,953.95"/><path d="M95.54,923.84L100.24,928.54M100.24,923.84L95.54,928.54"/><path d="M108.27,898.42L112.97,903.12M112.97,898.42L108.27,903.12"/><path d="M121.72,873.00L126.42,877.70M126.42,873.00L121.72,877.70"/><path d="M126.67,867.91L131.37,872.61M131.37,867.91L126.67,872.61"/><path d="M133.04,872.36L137.74,877.06M137.74,872.36L133.04,877.06"/><path d="M196.72,898.42L201.42,903.12M201.42,898.42L196.72,903.12"/><path d="M266.07,923.84L270.77,928.54M270.77,923.84L266.07,928.54"/><path d="M317.72,949.25L322.42,953.95M322.42,949.25L317.72,953.95"/><path d="M356.64,974.67L361.34,979.37M361.34,974.67L356.64,979.37"/><path d="M427.40,974.42L432.10,979.12M432.10,974.42L427.40,979.12"/><path d="M498.16,974.42L502.86,979.12M502.86,974.42L498.16,979.12"/></g>
<g fill="none" stroke="#000" stroke-width="1.2"><rect x="73.60" y="1076.35" width="4.70" height="4.70"/><rect x="73.60" y="1050.93" width="4.70" height="4.70"/><rect x="73.60" y="1025.51" width="4.70" height="4.70"/><rect x="73.60" y="1000.09" width="4.70" height="4.70"/><rect x="73.60" y="974.67" width="4.70" height="4.70"/><rect x="75.72" y="974.67" width="4.70" height="4.70"/><rect x="80.68" y="949.25" width="4.70" height="4.70"/><rect x="87.75" y="923.84" width="4.70" height="4.70"/><rect x="94.83" y="898.42" width="4.70" height="4.70"/><rect x="121.01" y="873.00" width="4.70" height="4.70"/><rect x="123.13" y="847.58" width="4.70" height="4.70"/><rect x="128.09" y="843.77" width="4.70" height="4.70"/><rect x="148.61" y="847.58" width="4.70" height="4.70"/><rect x="177.62" y="873.00" width="4.70" height="4.70"/><rect x="232.10" y="898.42" width="4.70" height="4.70"/><rect x="314.18" y="923.84" width="4.70" height="4.70"/><rect x="346.03" y="949.25" width="4.70" height="4.70"/><rect x="382.82" y="967.81" width="4.70" height="4.70"/><rect x="427.40" y="967.81" width="4.70" height="4.70"/><rect x="498.16" y="967.81" width="4.70" height="4.70"/></g>
<g fill="none" stroke="#000" stroke-width="1.2"><path d="M75.95,1076.15L78.50,1081.05L73.40,1081.05Z"/><path d="M75.95,1050.73L78.50,1055.63L73.40,1055.63Z"/><path d="M75.95,1025.31L78.50,1030.21L73.40,1030.21Z"/><path d="M75.95,999.89L78.50,1004.79L73.40,1004.79Z"/><path d="M75.95,971.93L78.50,976.83L73.40,976.83Z"/><path d="M78.78,974.47L81.33,979.37L76.23,979.37Z"/><path d="M83.73,949.05L86.28,953.95L81.18,953.95Z"/><path d="M90.81,923.64L93.36,928.54L88.26,928.54Z"/><path d="M98.59,898.22L101.14,903.12L96.04,903.12Z"/><path d="M107.79,872.80L110.34,877.70L105.24,877.70Z"/><path d="M124.07,847.38L126.62,852.28L121.52,852.28Z"/><path d="M129.73,846.74L132.28,851.64L127.18,851.64Z"/><path d="M206.15,872.80L208.70,877.70L203.60,877.70Z"/><path d="M228.08,898.22L230.63,903.12L225.53,903.12Z"/><path d="M305.92,923.64L308.47,928.54L303.37,928.54Z"/><path d="M369.60,949.05L372.15,953.95L367.05,953.95Z"/><path d="M405.69,963.04L408.24,967.94L403.14,967.94Z"/><path d="M429.75,963.04L432.30,967.94L427.20,967.94Z"/><path d="M500.51,963.04L503.06,967.94L497.96,967.94Z"/></g>
<g fill="none" stroke="#000" stroke-width="1.2"><path d="M73.60,1076.35L78.30,1081.05M78.30,1076.35L73.60,1081.05"/><path d="M73.60,1050.93L78.30,1055.63M78.30,1050.93L73.60,1055.63"/><path d="M73.60,1025.51L78.30,1030.21M78.30,1025.51L73.60,1030.21"/><path d="M73.60,1000.09L78.30,1004.79M78.30,1000.09L73.60,1004.79"/><path d="M73.60,968.32L78.30,973.02M78.30,968.32L73.60,973.02"/><path d="M77.14,974.67L81.84,979.37M81.84,974.67L77.14,979.37"/><path d="M82.09,949.25L86.79,953.95M86.79,949.25L82.09,953.95"/><path d="M89.17,923.84L93.87,928.54M93.87,923.84L89.17,928.54"/><path d="M97.66,898.42L102.36,903.12M102.36,898.42L97.66,903.12"/><path d="M109.69,873.00L114.39,877.70M114.39,873.00L109.69,877.70"/><path d="M124.55,847.58L129.25,852.28M129.25,847.58L124.55,852.28"/><path d="M127.38,848.85L132.08,853.55M132.08,848.85L127.38,853.55"/><path d="M213.00,873.00L217.70,877.70M217.70,873.00L213.00,877.70"/><path d="M272.44,898.42L277.14,903.12M277.14,898.42L272.44,903.12"/><path d="M297.20,923.84L301.90,928.54M301.90,923.84L297.20,928.54"/><path d="M340.37,949.25L345.07,953.95M345.07,949.25L340.37,953.95"/><path d="M360.18,953.07L364.88,957.77M364.88,953.07L360.18,957.77"/><path d="M427.40,953.32L432.10,958.02M432.10,953.32L427.40,958.02"/><path d="M498.16,953.32L502.86,958.02M502.86,953.32L498.16,958.02"/></g>
<g fill="none" stroke="#000" stroke-width="1.2"><rect x="73.60" y="1076.35" width="4.70" height="4.70"/><rect x="73.60" y="1050.93" width="4.70" height="4.70"/><rect x="73.60" y="1025.51" width="4.70" height="4.70"/><rect x="73.60" y="1000.09" width="4.70" height="4.70"/><rect x="73.60" y="974.67" width="4.70" height="4.70"/><rect x="73.60" y="974.67" width="4.70" height="4.70"/><rect x="77.14" y="949.25" width="4.70" height="4.70"/><rect x="82.80" y="923.84" width="4.70" height="4.70"/><rect x="88.46" y="898.42" width="4.70" height="4.70"/><rect x="94.83" y="873.00" width="4.70" height="4.70"/><rect x="103.32" y="847.58" width="4.70" height="4.70"/><rect x="116.76" y="822.16" width="4.70" height="4.70"/><rect x="127.38" y="813.26" width="4.70" height="4.70"/><rect x="139.41" y="822.16" width="4.70" height="4.70"/><rect x="200.97" y="847.58" width="4.70" height="4.70"/><rect x="262.53" y="873.00" width="4.70" height="4.70"/><rect x="347.44" y="898.42" width="4.70" height="4.70"/><rect x="363.72" y="923.84" width="4.70" height="4.70"/><rect x="394.14" y="938.20" width="4.70" height="4.70"/><rect x="427.40" y="938.20" width="4.70" height="4.70"/><rect x="498.16" y="938.20" width="4.70" height="4.70"/></g>
<g fill="none" stroke="#000" stroke-width="1.2"><path d="M75.95,1076.15L78.50,1081.05L73.40,1081.05Z"/><path d="M75.95,1050.73L78.50,1055.63L73.40,1055.63Z"/><path d="M75.95,1025.31L78.50,1030.21L73.40,1030.21Z"/><path d="M75.95,999.89L78.50,1004.79L73.40,1004.79Z"/><path d="M75.95,974.47L78.50,979.37L73.40,979.37Z"/><path d="M76.66,974.47L79.21,979.37L74.11,979.37Z"/><path d="M80.20,949.05L82.75,953.95L77.65,953.95Z"/><path d="M85.86,923.64L88.41,928.54L83.31,928.54Z"/><path d="M92.22,898.22L94.77,903.12L89.67,903.12Z"/><path d="M98.59,872.80L101.14,877.70L96.04,877.70Z"/><path d="M104.96,847.38L107.51,852.28L102.41,852.28Z"/><path d="M118.41,821.96L120.96,826.86L115.86,826.86Z"/><path d="M129.73,809.25L132.28,814.15L127.18,814.15Z"/><path d="M166.52,821.96L169.07,826.86L163.97,826.86Z"/><path d="M184.21,847.38L186.76,852.28L181.66,852.28Z"/><path d="M206.15,872.80L208.70,877.70L203.60,877.70Z"/><path d="M250.02,898.22L252.57,903.12L247.47,903.12Z"/><path d="M305.92,923.64L308.47,928.54L303.37,928.54Z"/><path d="M380.93,935.33L383.48,940.23L378.38,940.23Z"/><path d="M429.75,935.33L432.30,940.23L427.20,940.23Z"/><path d="M500.51,935.33L503.06,940.23L497.96,940.23Z"/></g>
<g fill="none" stroke="#000" stroke-width="1.2"><path d="M73.60,1076.35L78.30,1081.05M78.30,1076.35L73.60,1081.05"/><path d="M73.60,1050.93L78.30,1055.63M78.30,1050.93L73.60,1055.63"/><path d="M73.60,1025.51L78.30,1030.21M78.30,1025.51L73.60,1030.21"/><path d="M73.60,1000.09L78.30,1004.79M78.30,1000.09L73.60,1004.79"/><path d="M73.60,974.67L78.30,979.37M78.30,974.67L73.60,979.37"/><path d="M75.02,974.67L79.72,979.37M79.72,974.67L75.02,979.37"/><path d="M78.55,949.25L83.25,953.95M83.25,949.25L78.55,953.95"/><path d="M84.21,923.84L88.91,928.54M88.91,923.84L84.21,928.54"/><path d="M91.29,898.42L95.99,903.12M95.99,898.42L91.29,903.12"/><path d="M99.07,873.00L103.77,877.70M103.77,873.00L99.07,877.70"/><path d="M108.98,847.58L113.68,852.28M113.68,847.58L108.98,852.28"/><path d="M118.18,828.51L122.88,833.21M122.88,828.51L118.18,833.21"/><path d="M128.09,826.23L132.79,830.93M132.79,826.23L128.09,830.93"/><path d="M207.34,847.58L212.04,852.28M212.04,847.58L207.34,852.28"/><path d="M242.01,873.00L246.71,877.70M246.71,873.00L242.01,877.70"/><path d="M265.36,898.42L270.06,903.12M270.06,898.42L265.36,903.12"/><path d="M335.41,923.84L340.11,928.54M340.11,923.84L335.41,928.54"/><path d="M394.14,939.09L398.84,943.79M398.84,939.09L394.14,943.79"/><path d="M427.40,939.09L432.10,943.79M432.10,939.09L427.40,943.79"/><path d="M498.16,939.09L502.86,943.79M502.86,939.09L498.16,943.79"/></g>
<rect x="524.30" y="776.00" width="156.70" height="290.30" fill="#fff" stroke="#6f9fd8" stroke-width="1.2"/>
<path d="M540.20,788.80H558.00" stroke="#000" stroke-width="1.2"/>
<g fill="none" stroke="#000" stroke-width="1.05"><rect x="547.00" y="786.30" width="5.00" height="5.00"/></g>
<text x="560.20" y="793.00" class="lg" style="font-size:12.5px">F1 - Density 800</text>
<path d="M540.20,812.88H558.00" stroke="#000" stroke-width="1.2"/>
<g fill="none" stroke="#000" stroke-width="1.05"><path d="M549.50,810.18L552.20,815.38L546.80,815.38Z"/></g>
<text x="560.20" y="817.08" class="lg" style="font-size:12.5px">F2 - Density 800</text>
<path d="M540.20,836.96H558.00" stroke="#000" stroke-width="1.2"/>
<g fill="none" stroke="#000" stroke-width="1.05"><path d="M547.00,834.46L552.00,839.46M552.00,834.46L547.00,839.46"/></g>
<text x="560.20" y="841.16" class="lg" style="font-size:12.5px">F3 - Density 800</text>
<path d="M540.20,861.04H558.00" stroke="#000" stroke-width="1.2" stroke-dasharray="1.2,1.3"/>
<g fill="none" stroke="#000" stroke-width="1.05"><rect x="547.00" y="858.54" width="5.00" height="5.00"/></g>
<text x="560.20" y="865.24" class="lg" style="font-size:12.5px">F4 - Density 1000</text>
<path d="M540.20,885.12H558.00" stroke="#000" stroke-width="1.2" stroke-dasharray="1.2,1.3"/>
<g fill="none" stroke="#000" stroke-width="1.05"><path d="M549.50,882.42L552.20,887.62L546.80,887.62Z"/></g>
<text x="560.20" y="889.32" class="lg" style="font-size:12.5px">F5 - Density 1000</text>
<path d="M540.20,909.20H558.00" stroke="#000" stroke-width="1.2" stroke-dasharray="1.2,1.3"/>
<g fill="none" stroke="#000" stroke-width="1.05"><path d="M547.00,906.70L552.00,911.70M552.00,906.70L547.00,911.70"/></g>
<text x="560.20" y="913.40" class="lg" style="font-size:12.5px">F6 - Density 1000</text>
<path d="M540.20,933.28H544.40M546.50,933.28H554.20" stroke="#000" stroke-width="1.2"/>
<g fill="none" stroke="#000" stroke-width="1.05"><rect x="547.00" y="930.78" width="5.00" height="5.00"/></g>
<text x="560.20" y="937.48" class="lg" style="font-size:12.5px">F7 - Density 1200</text>
<path d="M540.20,957.36H544.40M546.50,957.36H554.20" stroke="#000" stroke-width="1.2"/>
<g fill="none" stroke="#000" stroke-width="1.05"><path d="M549.50,954.66L552.20,959.86L546.80,959.86Z"/></g>
<text x="560.20" y="961.56" class="lg" style="font-size:12.5px">F8 - Density 1200</text>
<path d="M540.20,981.44H544.40M546.50,981.44H554.20" stroke="#000" stroke-width="1.2"/>
<g fill="none" stroke="#000" stroke-width="1.05"><path d="M547.00,978.94L552.00,983.94M552.00,978.94L547.00,983.94"/></g>
<text x="560.20" y="985.64" class="lg" style="font-size:12.5px">F9 - Density 1200</text>
<path d="M540.20,1005.52H551.80M554.80,1005.52H556.00" stroke="#000" stroke-width="1.2"/>
<g fill="none" stroke="#000" stroke-width="1.05"><rect x="547.00" y="1003.02" width="5.00" height="5.00"/></g>
<text x="560.20" y="1009.72" class="lg" style="font-size:12.5px">F10 - Density 1600</text>
<path d="M540.20,1029.60H551.80M554.80,1029.60H556.00" stroke="#000" stroke-width="1.2"/>
<g fill="none" stroke="#000" stroke-width="1.05"><path d="M549.50,1026.90L552.20,1032.10L546.80,1032.10Z"/></g>
<text x="560.20" y="1033.80" class="lg" style="font-size:12.5px">F11 - Density 1600</text>
<path d="M540.20,1053.68H551.80M554.80,1053.68H556.00" stroke="#000" stroke-width="1.2"/>
<g fill="none" stroke="#000" stroke-width="1.05"><path d="M547.00,1051.18L552.00,1056.18M552.00,1051.18L547.00,1056.18"/></g>
<text x="560.20" y="1057.88" class="lg" style="font-size:12.5px">F12 - Density 1600</text>
<text x="160.40" y="1151.10" class="cl">(c)</text>
<text x="192.20" y="1151.10" class="ct" style="font-size:14.8px" textLength="207.5" lengthAdjust="spacingAndGlyphs">Force Displacement Plot of Group</text>
<text x="407.2" y="1151.50" class="ct" style="font-size:15.2px" textLength="75" lengthAdjust="spacingAndGlyphs">F Specimens</text>
<rect x="404.8" y="1140.9" width="1" height="1" fill="#888"/><rect x="404.8" y="1150.8" width="1" height="1" fill="#888"/>
</svg></body></html>
